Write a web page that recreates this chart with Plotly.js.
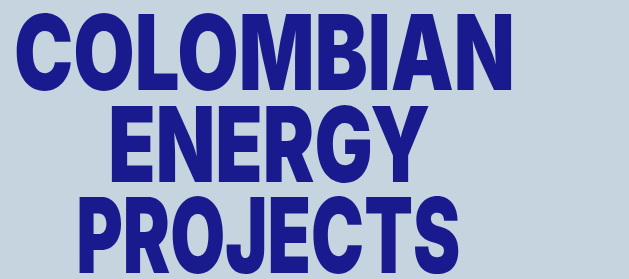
<!DOCTYPE html>
<html><head><meta charset="utf-8">
<script src="https://cdn.plot.ly/plotly-3.0.1.min.js"></script>
<style>html,body{margin:0;padding:0;background:#c6d4df;}</style>
</head><body>
<div id="chart" style="width:629px;height:279px;"></div>
<script>
// Content
const titleLines = ["COLOMBIAN", "ENERGY", "PROJECTS"];

// Layout (pixels)
const W = 629, H = 279;
const lineCenterX = [264.5, 269, 268];
const lineCenterY = [52, 143.5, 234.5];
const lineWidth = [501, 322, 384];

const annotations = titleLines.map((t, i) => ({
  text: t, xref: 'paper', yref: 'paper',
  x: lineCenterX[i] / W, y: 1 - lineCenterY[i] / H,
  xanchor: 'center', yanchor: 'middle', showarrow: false,
  font: {family: 'Inter, Roboto, sans-serif', size: 104, weight: 900, color: '#1a1a8f'}
}));

Plotly.newPlot('chart', [], {
  width: W, height: H,
  margin: {l: 0, r: 0, t: 0, b: 0},
  paper_bgcolor: '#c6d4df', plot_bgcolor: '#c6d4df',
  xaxis: {visible: false}, yaxis: {visible: false},
  showlegend: false,
  annotations: annotations
}, {staticPlot: true, displayModeBar: false}).then(gd => {
  gd.querySelectorAll('.annotation-text').forEach((el, i) => {
    el.setAttribute('textLength', lineWidth[i]);
    el.setAttribute('lengthAdjust', 'spacingAndGlyphs');
  });
});
</script>
</body></html>
